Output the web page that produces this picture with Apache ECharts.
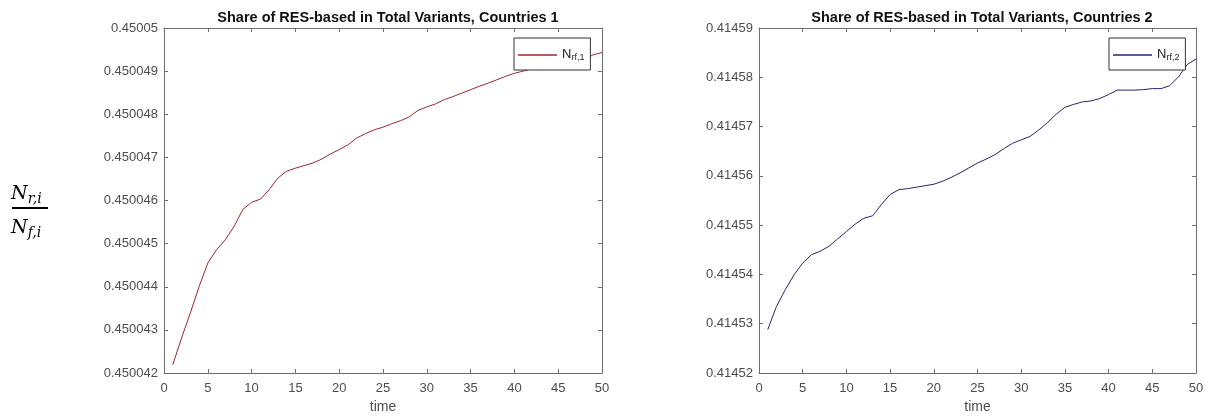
<!DOCTYPE html>
<html><head><meta charset="utf-8">
<script src="https://cdn.jsdelivr.net/npm/echarts@6/dist/echarts.min.js"></script>
<style>html,body{margin:0;padding:0;background:#fff}#c{width:1210px;height:417px}</style>
</head><body><div id="c"></div>
<script>
const time = [1,2,3,4,5,6,7,8,9,10,11,12,13,14,15,16,17,18,19,20,21,22,23,24,25,26,27,28,29,30,31,32,33,34,35,36,37,38,39,40,41,42,43,44,45,46,47,48,49,50];
const share1 = [0.45004219,0.45004281,0.45004339,0.45004400,0.45004455,0.45004486,0.45004509,0.45004540,0.45004579,0.45004596,
  0.45004603,0.45004625,0.45004652,0.45004668,0.45004675,0.45004681,0.45004687,0.45004696,0.45004708,0.45004718,
  0.45004729,0.45004745,0.45004755,0.45004764,0.45004770,0.45004778,0.45004785,0.45004794,0.45004809,0.45004817,
  0.45004824,0.45004834,0.45004841,0.45004849,0.45004857,0.45004865,0.45004872,0.45004880,0.45004888,0.45004895,
  0.45004900,0.45004905,0.45004907,0.45004909,0.45004911,0.45004917,0.45004922,0.45004927,0.45004938,0.45004943];
const share2 = [0.4145288,0.4145335,0.4145369,0.4145399,0.4145423,0.4145440,0.4145447,0.4145457,0.4145472,0.4145487,
  0.4145502,0.4145514,0.4145519,0.4145542,0.4145562,0.4145572,0.4145574,0.4145577,0.4145580,0.4145583,
  0.4145589,0.4145597,0.4145606,0.4145616,0.4145626,0.4145634,0.4145643,0.4145655,0.4145666,0.4145673,
  0.4145680,0.4145693,0.4145708,0.4145725,0.4145739,0.4145745,0.4145750,0.4145752,0.4145757,0.4145765,
  0.4145774,0.4145774,0.4145774,0.4145775,0.4145777,0.4145777,0.4145783,0.4145801,0.4145826,0.4145837];
const titles = ['Share of RES-based in Total Variants, Countries 1','Share of RES-based in Total Variants, Countries 2'];
const xTicks = {min:0, max:50, interval:5};
const y1Ticks = {min:0.450042, max:0.45005, interval:0.000001, digits:6};
const y2Ticks = {min:0.41452, max:0.41459, interval:0.00001, digits:5};

const FONT = 'Liberation Sans';
const AX = '#6e6e6e', LBL = '#4d4d4d';
const grids = [
  {left:164, right:608, top:28, bottom:44, containLabel:false, outerBoundsMode:'none'},
  {left:759, right:14, top:28, bottom:44, containLabel:false, outerBoundsMode:'none'}
];
function xAx(g, pos, show){
  return {type:'value', gridIndex:g, position:pos, min:xTicks.min, max:xTicks.max, interval:xTicks.interval,
    axisLine:{show:true, onZero:false, lineStyle:{color:AX, width:1}},
    axisTick:{show:true, inside:true, length:4, lineStyle:{color:AX}},
    axisLabel:{show:show, color:LBL, fontFamily:FONT, fontSize:13, margin:9},
    splitLine:{show:false},
    name: show ? 'time' : '', nameLocation:'middle', nameGap:27,
    nameTextStyle:{color:LBL, fontFamily:FONT, fontSize:14}};
}
function yAx(g, pos, show, t){
  return {type:'value', gridIndex:g, position:pos, min:t.min, max:t.max, interval:t.interval, scale:true,
    axisLine:{show:true, onZero:false, lineStyle:{color:AX, width:1}},
    axisTick:{show:true, inside:true, length:4, lineStyle:{color:AX}},
    axisLabel:{show:show, color:LBL, fontFamily:FONT, fontSize:13, margin:6,
      formatter:v => String(+(+v).toFixed(t.digits))},
    splitLine:{show:false}};
}
function legendOf(name, left, sub){
  return {data:[name], left:left, top:38, orient:'horizontal', icon:'rect',
    borderColor:'#333', borderWidth:1, padding:[4,6,3,4], itemWidth:39, itemHeight:1.5, itemGap:0,
    backgroundColor:'#fff',
    formatter: () => '{n|N}{s|' + sub + '}',
    textStyle:{fontFamily:FONT, color:'#222', padding:[0,0,0,0],
      rich:{n:{fontSize:13, fontFamily:FONT, color:'#222', verticalAlign:'top', lineHeight:14, padding:[0,0,6,0]},
            s:{fontSize:9, fontFamily:FONT, color:'#222', verticalAlign:'bottom', lineHeight:10, padding:[11,0,0,0]}}}};
}
const c1 = '#a0262e', c2 = '#262670';
const serifRich = {
  n:{fontFamily:'DejaVu Serif', fontStyle:'italic', fontSize:19, fill:'#000', verticalAlign:'top', lineHeight:21},
  s:{fontFamily:'DejaVu Serif', fontStyle:'italic', fontSize:14, fill:'#000', verticalAlign:'bottom', lineHeight:14, padding:[12,0,0,0]}
};
const option = {
  animation:false,
  backgroundColor:'#fff',
  title:[
    {text:titles[0], left:383, top:5, textAlign:'center', textStyle:{fontFamily:FONT, fontSize:14.5, fontWeight:'bold', color:'#111'}},
    {text:titles[1], left:977, top:5, textAlign:'center', textStyle:{fontFamily:FONT, fontSize:14.5, fontWeight:'bold', color:'#111'}}
  ],
  grid:grids,
  xAxis:[xAx(0,'bottom',true), xAx(0,'top',false), xAx(1,'bottom',true), xAx(1,'top',false)],
  yAxis:[yAx(0,'left',true,y1Ticks), yAx(0,'right',false,y1Ticks), yAx(1,'left',true,y2Ticks), yAx(1,'right',false,y2Ticks)],
  legend:[legendOf('Nrf1', 514, 'rf,1'), legendOf('Nrf2', 1109, 'rf,2')],
  series:[
    {name:'Nrf1', type:'line', xAxisIndex:0, yAxisIndex:0, symbol:'none', showSymbol:false,
     lineStyle:{color:c1, width:1}, itemStyle:{color:c1}, data:time.map((t,i)=>[t, share1[i]])},
    {name:'Nrf2', type:'line', xAxisIndex:2, yAxisIndex:2, symbol:'none', showSymbol:false,
     lineStyle:{color:c2, width:1}, itemStyle:{color:c2}, data:time.map((t,i)=>[t, share2[i]])}
  ],
  graphic:[
    {type:'text', left:11, top:180, style:{text:'{n|N}{s|r,i}', rich:serifRich}},
    {type:'line', shape:{x1:12, y1:208, x2:48, y2:208}, style:{stroke:'#000', lineWidth:2}},
    {type:'text', left:11, top:214, style:{text:'{n|N}{s|f,i}', rich:serifRich}}
  ]
};
const chart = echarts.init(document.getElementById('c'), null, {renderer:'canvas'});
chart.setOption(option);
</script></body></html>
